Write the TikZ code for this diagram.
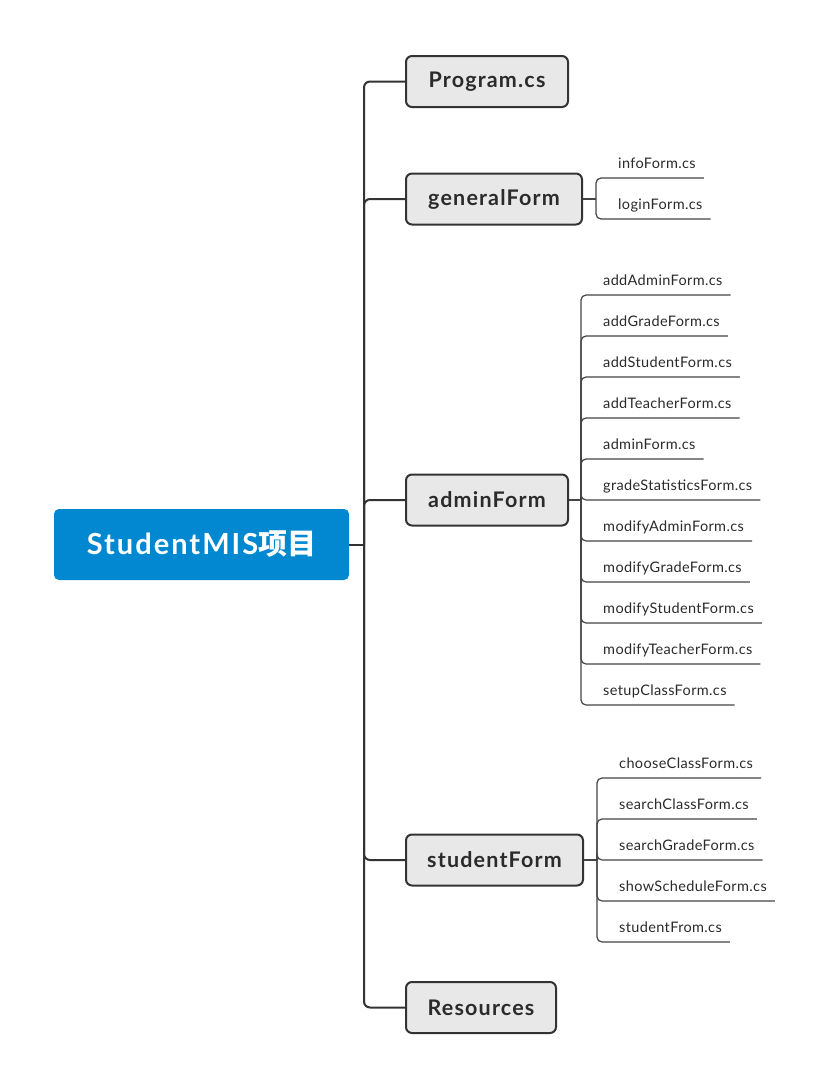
\documentclass[tikz,border=0pt]{standalone}
\usepackage{fontspec}
\setmainfont{Lato}
\newfontfamily\leaffont[LetterSpace=2.5]{Lato}
\newfontfamily\branchfont[LetterSpace=5.5]{Lato}
\newfontfamily\rootfont[LetterSpace=7]{Lato}
\newfontfamily\cjk{Noto Sans CJK SC}
\definecolor{rootblue}{HTML}{0288D1}
\definecolor{boxfill}{HTML}{E8E8E8}
\definecolor{boxline}{HTML}{333333}
\definecolor{trunkc}{HTML}{333333}
\definecolor{twigc}{HTML}{444444}
\definecolor{textdark}{HTML}{2B2B2B}
\tikzset{
  rootbox/.style={fill=rootblue, rounded corners=5pt, text=white,
    font=\rootfont\fontsize{29}{34}\selectfont\bfseries, minimum width=295pt,
    minimum height=71pt, inner sep=0pt},
  branchbox/.style={draw=boxline, line width=2pt, fill=boxfill, rounded corners=6pt,
    font=\branchfont\fontsize{21.5}{26}\selectfont\bfseries, text=textdark,
    minimum height=51pt, inner sep=0pt, anchor=west},
  leaftext/.style={font=\leaffont\fontsize{14.5}{17}\selectfont, text=textdark,
    inner sep=0pt, anchor=base west},
  trunkline/.style={draw=trunkc, line width=2pt, rounded corners=6pt},
  twigline/.style={draw=twigc, line width=1.2pt, rounded corners=5pt},
}
\begin{document}
\begin{tikzpicture}[x=1pt,y=-1pt]
\useasboundingbox[fill=white] (0,0) rectangle (832,1090);
% root
\node[rootbox] (root) at (201.5,544.5) {StudentMIS{\cjk 项目}};
\coordinate (rootj) at (364,544.5);
% branches
\node[branchbox, minimum width=162pt] (prog) at (405,81.5) {Program.cs};
\node[branchbox, minimum width=176pt] (gen) at (405,199) {generalForm};
\node[branchbox, minimum width=162pt] (adm) at (405,500) {adminForm};
\node[branchbox, minimum width=177pt] (stu) at (405,860) {studentForm};
\node[branchbox, minimum width=150pt] (res) at (405,1007.5) {Resources};
% trunk connectors
\draw[trunkline] (root.east) -- (rootj);
\foreach \b in {prog,gen,adm,stu,res}{
  \draw[trunkline] (rootj) |- (\b.west);
}
% generalForm leaves
\coordinate (genj) at (596,199);
\draw[twigline] (gen.east) -- (genj);
\foreach \t [count=\i] in {infoForm.cs, loginForm.cs}{
  \node[leaftext] (g\i) at (618,127+41*\i) {\t};
  \draw[twigline] (genj) |- ([xshift=8pt,yshift=-10pt]g\i.base east);
}
% adminForm leaves
\coordinate (admj) at (581,500);
\draw[twigline] (adm.east) -- (admj);
\foreach \t [count=\i] in {addAdminForm.cs, addGradeForm.cs, addStudentForm.cs,
  addTeacherForm.cs, adminForm.cs, gradeStatisticsForm.cs, modifyAdminForm.cs,
  modifyGradeForm.cs, modifyStudentForm.cs, modifyTeacherForm.cs, setupClassForm.cs}{
  \node[leaftext] (a\i) at (603,244+41*\i) {\t};
  \draw[twigline] (admj) |- ([xshift=8pt,yshift=-10pt]a\i.base east);
}
% studentForm leaves
\coordinate (stuj) at (597,860);
\draw[twigline] (stu.east) -- (stuj);
\foreach \t [count=\i] in {chooseClassForm.cs, searchClassForm.cs, searchGradeForm.cs,
  showScheduleForm.cs, studentFrom.cs}{
  \node[leaftext] (s\i) at (619,727+41*\i) {\t};
  \draw[twigline] (stuj) |- ([xshift=8pt,yshift=-10pt]s\i.base east);
}
\end{tikzpicture}
\end{document}
